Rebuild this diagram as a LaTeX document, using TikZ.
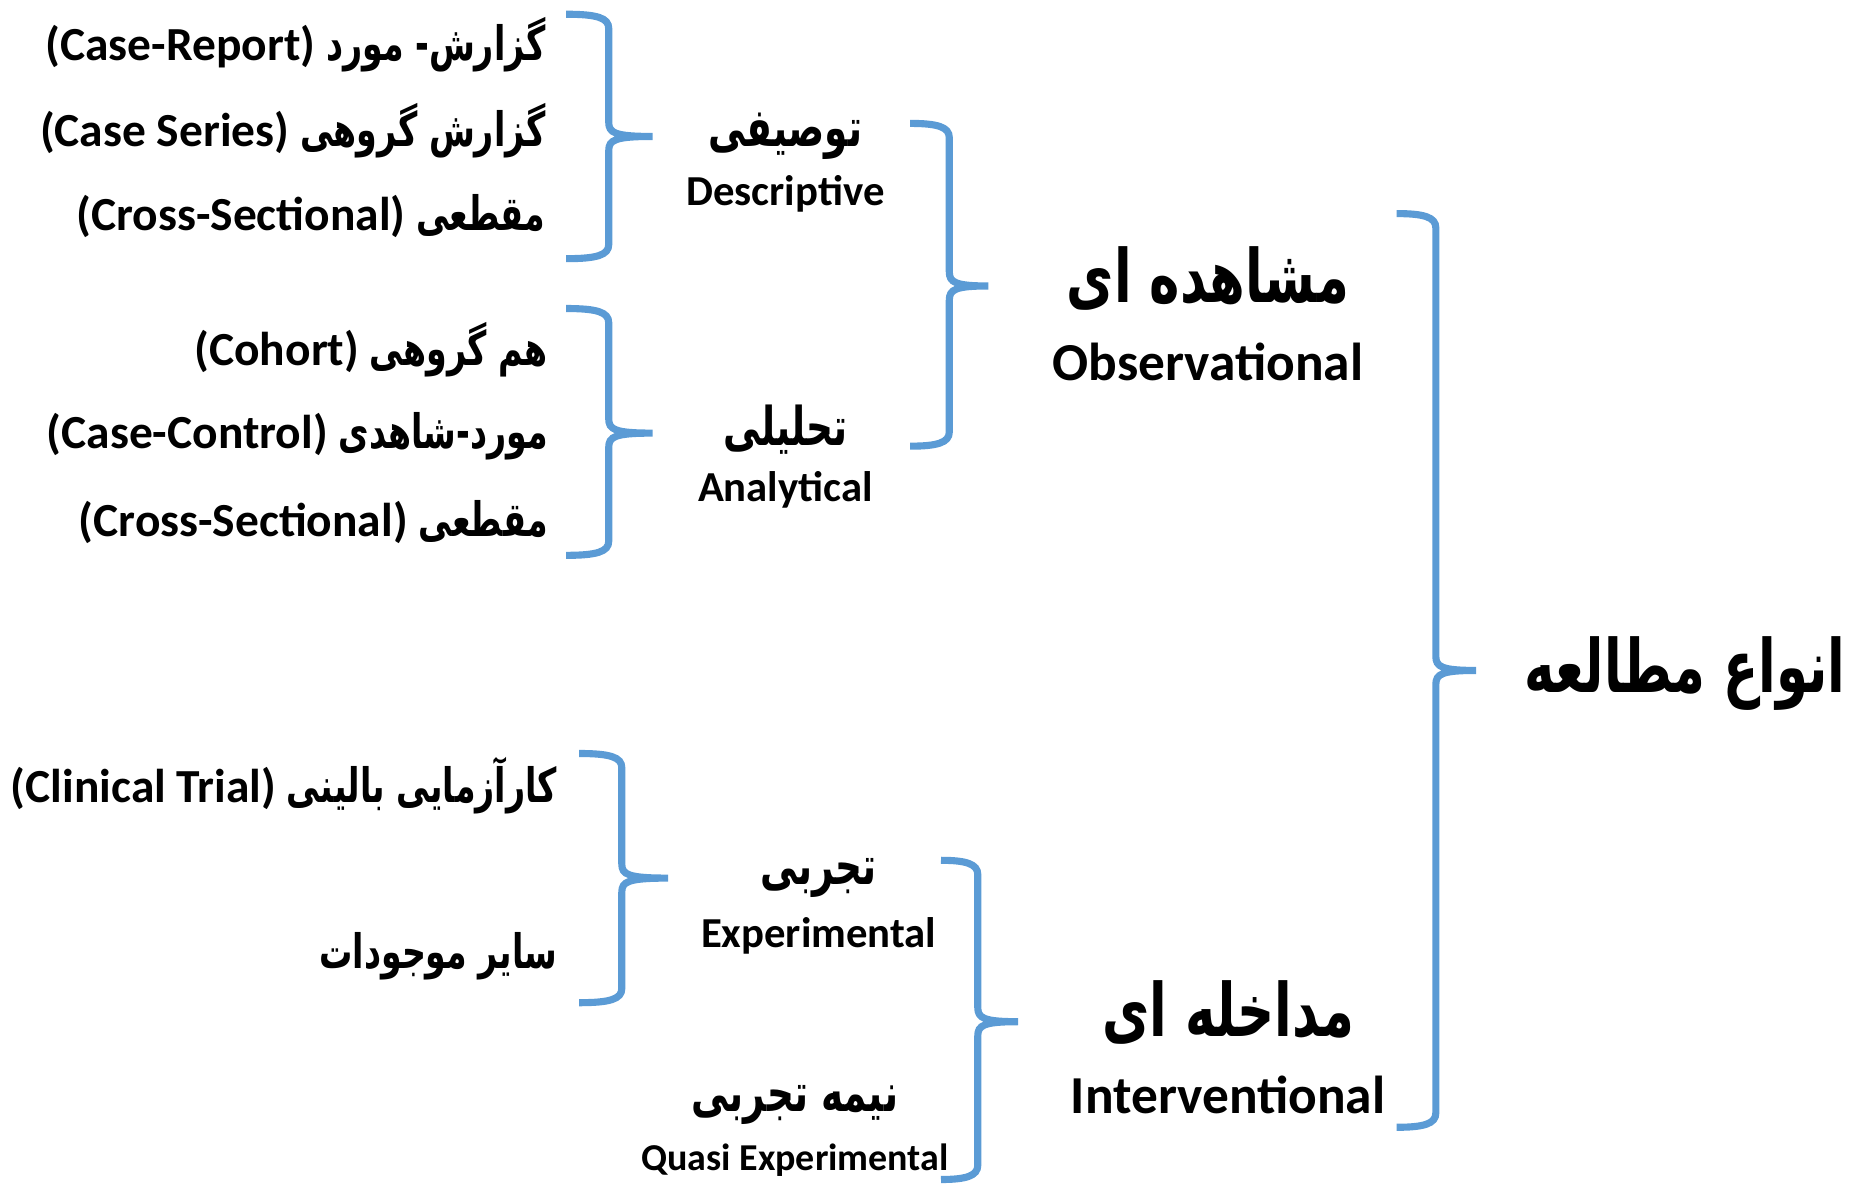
\documentclass[tikz,border=0pt]{standalone}
\usepackage{fontspec}
\setmainfont{Carlito}
\newfontfamily\fafont[Script=Arabic,FakeStretch=0.7]{DejaVu Sans}
\TeXXeTstate=1
\usetikzlibrary{positioning}
\definecolor{braceblue}{HTML}{5B9BD5}
\tikzstyle{brace} = [draw=braceblue, line width=3pt, line join=miter]
\tikzstyle{item} = [anchor=east, inner sep=0pt, font=\bfseries\fontsize{20}{23}\selectfont]
\tikzstyle{group} = [inner sep=0pt, font=\bfseries\fontsize{18}{21}\selectfont]
\tikzstyle{groupfa} = [inner sep=0pt, font=\bfseries\fontsize{22.5}{26}\selectfont]
\tikzstyle{head} = [inner sep=0pt, font=\bfseries\fontsize{22.5}{26}\selectfont]
\tikzstyle{headfa} = [inner sep=0pt, font=\bfseries\fontsize{31}{36}\selectfont]
\newcommand{\fa}[1]{{\fafont\bfseries\beginR #1\endR}}
% end x, line x, tip x, top y, middle y, bottom y
\newcommand{\studybrace}[6]{%
  \draw[brace] (#1,#4) .. controls (#2-10,#4) and (#2,#4+3) .. (#2,#4+12)
    -- (#2,#5-12) .. controls (#2,#5-3) and (#2+5,#5) .. (#3,#5)
    .. controls (#2+5,#5) and (#2,#5+3) .. (#2,#5+12)
    -- (#2,#6-12) .. controls (#2,#6-3) and (#2-10,#6) .. (#1,#6);}

\begin{document}
\begin{tikzpicture}[x=0.5pt,y=-0.5pt]
	\useasboundingbox (0,0) rectangle (1570,1000);
		% descriptive studies
		\node (rep) [item] at (460,38) {(Case-Report) \fa{گزارش- مورد}};
		\node (ser) [item] at (460,110) {(Case Series) \fa{گزارش گروهی}};
		\node (cs1) [item] at (460,182) {(Cross-Sectional) \fa{مقطعی}};
		% analytical studies
		\node (coh) [item] at (462,295) {(Cohort) \fa{هم گروهی}};
		\node (cc) [item] at (462,368) {(Case-Control) \fa{مورد-شاهدی}};
		\node (cs2) [item] at (462,440) {(Cross-Sectional) \fa{مقطعی}};
		% experimental studies
		\node (trial) [item] at (470,662) {(Clinical Trial) \fa{کارآزمایی بالینی}};
		\node (other) [item] at (470,806) {\fa{سایر موجودات}};

		\node (descfa) [groupfa] at (662,115) {\fa{توصیفی}};
		\node (desc) [group, below of=descfa, node distance=24pt] {Descriptive};
		\node (anafa) [groupfa] at (662,362) {\fa{تحلیلی}};
		\node (ana) [group, below of=anafa, node distance=25.5pt] {Analytical};
		\node (expfa) [groupfa] at (690,740) {\fa{تجربی}};
		\node (exp) [group, below of=expfa, node distance=24.5pt] {Experimental};
		\node (quasifa) [groupfa] at (670,931) {\fa{نیمه تجربی}};
		\node (quasi) [group, below of=quasifa, node distance=23.5pt, font=\bfseries\fontsize{16}{19}\selectfont] {Quasi Experimental};

		\node (obsfa) [headfa] at (1018,235) {\fa{مشاهده ای}};
		\node (obs) [head, below of=obsfa, node distance=35pt] {Observational};
		\node (intfa) [headfa] at (1035,853) {\fa{مداخله ای}};
		\node (int) [head, below of=intfa, node distance=35pt] {Interventional};
		\node (types) [headfa] at (1420,568) {\fa{انواع مطالعه}};

		\studybrace{477}{513}{550}{12}{115}{218}
		\studybrace{477}{513}{550}{260}{365}{468}
		\studybrace{488}{524}{563}{635}{740}{845}
		\studybrace{767}{800}{833}{104}{241}{376}
		\studybrace{793}{824}{858}{725}{861}{994}
		\studybrace{1177}{1210}{1244}{180}{565}{950}
	\end{tikzpicture}
\end{document}
